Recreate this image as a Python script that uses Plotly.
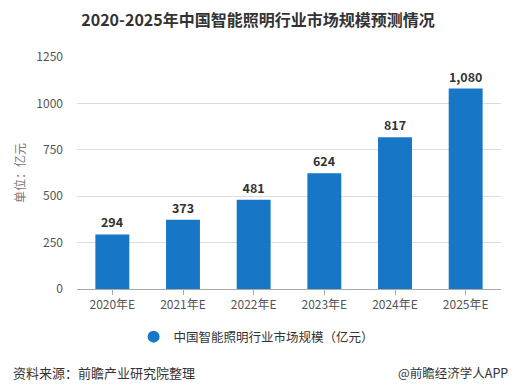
import plotly.graph_objects as go

categories = ["2020年E", "2021年E", "2022年E", "2023年E", "2024年E", "2025年E"]
values = [294, 373, 481, 624, 817, 1080]
value_labels = ["294", "373", "481", "624", "817", "1,080"]
y_ticks = [0, 250, 500, 750, 1000, 1250]
series_name = "中国智能照明行业市场规模（亿元）"
title_text = "2020-2025年中国智能照明行业市场规模预测情况"

FONT = "Noto Sans CJK SC, Microsoft YaHei, sans-serif"
BAR = "#1777c6"

# page body has an 8px margin -> figure is 8px smaller, coordinates shifted by 8
W, H = 508, 383
L, R, T, B = 66, 15, 49, 102
PW = W - L - R
PH = H - T - B

fig = go.Figure()
fig.add_trace(go.Bar(
    x=categories, y=values, name=series_name,
    marker=dict(color=BAR, line=dict(width=0)),
    width=0.48,
    text=["<b>" + t + "</b>" for t in value_labels], textposition="outside",
    textfont=dict(size=12.5, color="#333333", family=FONT),
    cliponaxis=False,
    showlegend=False,
))
fig.add_trace(go.Scatter(
    x=[None], y=[None], mode="markers", name=series_name,
    marker=dict(symbol="circle", size=13, color=BAR),
    showlegend=True,
))

fig.update_layout(
    width=W, height=H,
    margin=dict(l=L, r=R, t=T, b=B),
    paper_bgcolor="white", plot_bgcolor="white",
    font=dict(family=FONT, color="#333333"),
    title=dict(text="<b>" + title_text + "</b>", x=(258 - 8) / W, xanchor="center",
               y=1 - 12 / H, yanchor="middle",
               font=dict(size=16, color="#333333", family=FONT)),
    showlegend=True,
    legend=dict(orientation="h", x=(123 - L) / PW, xanchor="left", y=-(337 - 289) / PH,
                yanchor="middle", font=dict(size=12.5, color="#333333", family=FONT),
                itemsizing="constant"),
    xaxis=dict(
        type="category", showgrid=False, showline=True, linecolor="#aaaaaa", linewidth=1,
        ticks="outside", ticklen=5, tickcolor="#aaaaaa",
        tickfont=dict(size=12, color="#555555", family=FONT),
    ),
    yaxis=dict(
        range=[0, 1250], tickvals=y_ticks, showgrid=True, gridcolor="#dddddd", gridwidth=1,
        zeroline=False, showline=False,
        tickfont=dict(size=12, color="#555555", family=FONT),
        ticklabelstandoff=13,
        title=dict(text="单位：亿元", font=dict(size=12, color="#777777", family=FONT), standoff=8),
    ),
)

fig.add_annotation(text="资料来源：前瞻产业研究院整理", xref="paper", yref="paper",
                   x=-L / PW, y=-(372 - 289) / PH, xanchor="left", yanchor="middle",
                   showarrow=False, font=dict(size=13, color="#333333", family=FONT))
fig.add_annotation(text="@前瞻经济学人APP", xref="paper", yref="paper",
                   x=(502 - L) / PW, y=-(372 - 289) / PH, xanchor="right", yanchor="middle",
                   showarrow=False, font=dict(size=12.5, color="#333333", family=FONT))

fig.write_html("out.html")
